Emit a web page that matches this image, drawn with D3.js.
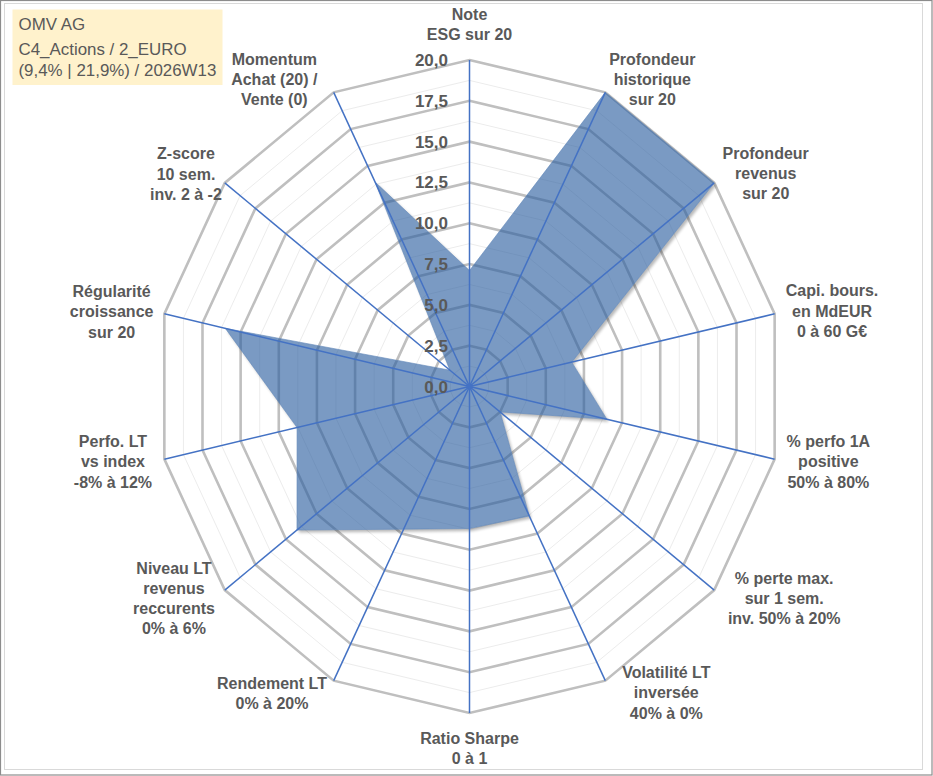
<!DOCTYPE html>
<html>
<head>
<meta charset="utf-8">
<script src="https://cdn.jsdelivr.net/npm/d3@7"></script>
<style>
  html, body { margin: 0; padding: 0; background: #fff; }
  svg { display: block; }
</style>
</head>
<body>
<svg id="chart" width="933" height="776"></svg>
<script>
// ---------- DATA ----------
const categories = [
  ["Note", "ESG sur 20"],
  ["Profondeur", "historique", "sur 20"],
  ["Profondeur", "revenus", "sur 20"],
  ["Capi. bours.", "en MdEUR", "0 à 60 G€"],
  ["% perfo 1A", "positive", "50% à 80%"],
  ["% perte max.", "sur 1 sem.", "inv. 50% à 20%"],
  ["Volatilité LT", "inversée", "40% à 0%"],
  ["Ratio Sharpe", "0 à 1"],
  ["Rendement LT", "0% à 20%"],
  ["Niveau LT", "revenus", "reccurents", "0% à 6%"],
  ["Perfo. LT", "vs index", "-8% à 12%"],
  ["Régularité", "croissance", "sur 20"],
  ["Z-score", "10 sem.", "inv. 2 à -2"],
  ["Momentum", "Achat (20) /", "Vente (0)"]
];
const seriesValues = [7.1, 20, 20, 6.7, 9.0, 2.5, 8.8, 8.7, 9.7, 14.1, 11.3, 16.0, 1.6, 13.9];
const tickValues = [0, 2.5, 5, 7.5, 10, 12.5, 15, 17.5, 20];
const minorTickValues = [1.25, 3.75, 6.25, 8.75, 11.25, 13.75, 16.25, 18.75];
const titleLines = ["OMV AG", "C4_Actions / 2_EURO", "(9,4% | 21,9%) / 2026W13"];

// ---------- LAYOUT (label offsets from the outer vertex of each axis) ----------
const labelOffsets = [
  [0, -36], [47, -13], [51.5, -9.7], [57.4, -3], [53.7, 2.6], [70, 8.3], [61, 12],
  [0, 35], [-61.7, 12.6], [-50.8, 8.3], [-51.4, 2.6], [-52.7, -2.2], [-38.8, -9], [-59.4, -13]
];

const W = 933, H = 776;
const cx = 469.5, cy = 386.5;
const svg = d3.select("#chart");

const rX = d3.scaleLinear().domain([0, 20]).range([0, 313]);
const rY = d3.scaleLinear().domain([0, 20]).range([0, 326.5]);
const angle = d3.scaleLinear().domain([0, categories.length]).range([0, 2 * Math.PI]);

const pt = (i, v) => [cx + rX(v) * Math.sin(angle(i)), cy - rY(v) * Math.cos(angle(i))];
const ring = v => categories.map((_, i) => pt(i, v));
const lineClosed = d3.line().curve(d3.curveLinearClosed);

// background & frames
svg.append("rect").attr("width", W).attr("height", H).attr("fill", "#fff");
svg.append("rect").attr("x", 4.5).attr("y", 3.5).attr("width", 918).attr("height", 766)
  .attr("fill", "none").attr("stroke", "#d9d9d9").attr("stroke-width", 1);
svg.append("rect").attr("x", 0.5).attr("y", 0.5).attr("width", 931.5).attr("height", 774.5)
  .attr("fill", "none").attr("stroke", "#8c8c8c").attr("stroke-width", 1.2);

// defs: shadow mask + blur
const defs = svg.append("defs");
defs.append("filter").attr("id", "blur").attr("x", "-10%").attr("y", "-10%").attr("width", "120%").attr("height", "120%")
  .append("feGaussianBlur").attr("stdDeviation", 1.8);
const mask = defs.append("mask").attr("id", "outside");
mask.append("rect").attr("width", W).attr("height", H).attr("fill", "#fff");
mask.append("path").attr("d", lineClosed(seriesValues.map((v, i) => pt(i, v)))).attr("fill", "#000");

// grid
const grid = svg.append("g");
grid.selectAll("path.minor").data(minorTickValues).join("path")
  .attr("d", v => lineClosed(ring(v)))
  .attr("fill", "none").attr("stroke", "#ececec").attr("stroke-width", 1);
grid.selectAll("path.major").data(tickValues.filter(v => v > 0)).join("path")
  .attr("d", v => lineClosed(ring(v)))
  .attr("fill", "none").attr("stroke", "#bfbfbf").attr("stroke-width", 2.6)
  .attr("stroke-linejoin", "miter");

// series shadow
const seriesPts = seriesValues.map((v, i) => pt(i, v));
svg.append("g").attr("mask", "url(#outside)")
  .append("path")
  .attr("d", lineClosed(seriesPts))
  .attr("transform", "translate(2,2.5)")
  .attr("fill", "#000").attr("opacity", 0.28)
  .attr("filter", "url(#blur)");

// series fill
svg.append("path")
  .attr("d", lineClosed(seriesPts))
  .attr("fill", "rgb(45,95,160)").attr("fill-opacity", 0.63)
  .attr("stroke", "rgb(95,135,185)").attr("stroke-width", 0.6);

// spokes
svg.append("g").selectAll("line").data(categories).join("line")
  .attr("x1", cx).attr("y1", cy)
  .attr("x2", (d, i) => pt(i, 20)[0]).attr("y2", (d, i) => pt(i, 20)[1])
  .attr("stroke", "#4472c4").attr("stroke-width", 1.5);
svg.append("circle").attr("cx", cx).attr("cy", cy).attr("r", 2.8).attr("fill", "#4472c4");

// tick labels
const fmt = v => d3.format(".1f")(v).replace(".", ",");
svg.append("g").selectAll("text").data(tickValues).join("text")
  .attr("x", cx - 21.5)
  .attr("y", v => cy - rY(v) + 6)
  .attr("text-anchor", "end")
  .attr("font-family", "'Liberation Sans', Arial, sans-serif")
  .attr("font-weight", "bold").attr("font-size", 17)
  .attr("fill", "#595959")
  .text(fmt);

// axis labels
const lh = 20.2;
const labels = svg.append("g")
  .attr("font-family", "'Liberation Sans', Arial, sans-serif")
  .attr("font-weight", "bold").attr("font-size", 16)
  .attr("fill", "#595959").attr("text-anchor", "middle");
categories.forEach((lines, i) => {
  const [vx, vy] = pt(i, 20);
  const lx = vx + labelOffsets[i][0];
  const ly = vy + labelOffsets[i][1];
  const n = lines.length;
  const t = labels.append("text");
  lines.forEach((s, k) => {
    t.append("tspan").attr("x", lx).attr("y", ly + (k - (n - 1) / 2) * lh + 5.7).text(s);
  });
});

// title box
const tb = svg.append("g");
tb.append("rect").attr("x", 12.5).attr("y", 9.5).attr("width", 210).attr("height", 75.5).attr("fill", "#fff2cc");
const titleY = [30, 55, 75.5];
tb.selectAll("text").data(titleLines).join("text")
  .attr("x", 18.5).attr("y", (d, i) => titleY[i])
  .attr("font-family", "'Liberation Sans', Arial, sans-serif")
  .attr("font-size", 16.9).attr("fill", "#595959")
  .text(d => d);
</script>
</body>
</html>
